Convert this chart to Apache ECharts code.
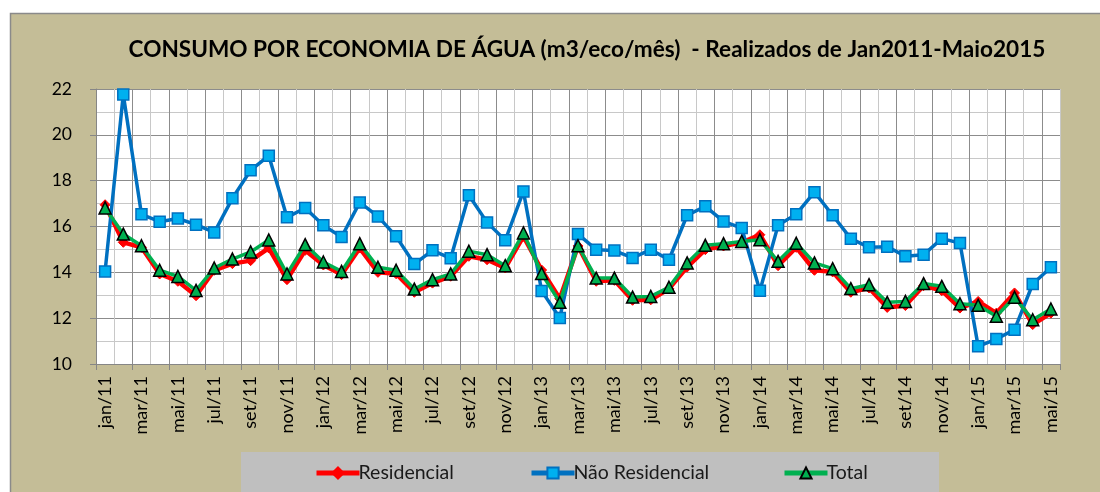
<!DOCTYPE html>
<html>
<head>
<meta charset="utf-8">
<script src="https://cdn.jsdelivr.net/npm/echarts@6/dist/echarts.min.js"></script>
<style>
html,body{margin:0;padding:0;background:#fff;}
#c{width:1100px;height:492px;}
</style>
</head>
<body>
<div id="c"></div>
<script>
const categories = ['jan/11','fev/11','mar/11','abr/11','mai/11','jun/11','jul/11','ago/11','set/11','out/11','nov/11','dez/11',
'jan/12','fev/12','mar/12','abr/12','mai/12','jun/12','jul/12','ago/12','set/12','out/12','nov/12','dez/12',
'jan/13','fev/13','mar/13','abr/13','mai/13','jun/13','jul/13','ago/13','set/13','out/13','nov/13','dez/13',
'jan/14','fev/14','mar/14','abr/14','mai/14','jun/14','jul/14','ago/14','set/14','out/14','nov/14','dez/14',
'jan/15','fev/15','mar/15','abr/15','mai/15'];

const residencial = [16.95,15.31,15.09,13.93,13.61,12.98,14.09,14.38,14.51,15.06,13.68,14.96,
14.32,13.90,15.06,14.00,13.94,13.13,13.53,13.83,14.70,14.55,14.19,15.57,
14.10,12.85,15.15,13.61,13.65,12.78,12.80,13.28,14.23,14.99,15.15,15.30,
15.64,14.29,15.09,14.09,14.02,13.13,13.32,12.47,12.55,13.42,13.20,12.44,
12.73,12.22,13.10,11.72,12.22];

const naoResidencial = [14.04,21.76,16.53,16.21,16.35,16.08,15.74,17.23,18.45,19.09,16.40,16.81,
16.05,15.54,17.05,16.44,15.57,14.36,14.96,14.61,17.36,16.18,15.40,17.53,
13.19,12.01,15.67,14.99,14.95,14.63,14.99,14.55,16.49,16.88,16.22,15.93,
13.20,16.05,16.54,17.50,16.49,15.47,15.09,15.12,14.70,14.77,15.47,15.28,
10.77,11.09,11.50,13.49,14.22];

const total = [16.81,15.67,15.16,14.09,13.82,13.21,14.19,14.58,14.89,15.41,13.93,15.21,
14.45,14.04,15.25,14.22,14.09,13.27,13.68,13.93,14.92,14.77,14.29,15.72,
13.95,12.69,15.16,13.75,13.75,12.92,12.95,13.35,14.41,15.18,15.25,15.35,
15.42,14.48,15.27,14.41,14.16,13.29,13.46,12.69,12.73,13.51,13.39,12.63,
12.56,12.08,12.91,11.93,12.40];

const seriesNames = ['Residencial','Não Residencial','Total'];
const yTicks = {min:10, max:22, interval:2};

const FONT = 'Lato, "Open Sans", sans-serif';
const chart = echarts.init(document.getElementById('c'), null, {renderer:'canvas'});

const legendCommon = {
  top: 458,
  itemWidth: 43,
  itemHeight: 14,
  lineStyle: {width: 5},
  textStyle: {fontFamily: FONT, fontSize: 19.5, color: '#1a1a1a', padding:[0,0,0,-6]},
};

chart.setOption({
  backgroundColor: '#ffffff',
  animation: false,
  graphic: [
    {type:'rect', z:-10, shape:{x:10.5, y:13.5, width:1100, height:490}, style:{fill:'#C4BD97', stroke:'#8a8a8a', lineWidth:1.5}},
    {type:'rect', z:-9, shape:{x:241, y:452, width:698, height:45}, style:{fill:'#BFBFBF'}}
  ],
  title: {
    text: 'CONSUMO POR ECONOMIA DE ÁGUA (m3/eco/mês)  - Realizados de Jan2011-Maio2015',
    left: 582, top: 33, textAlign: 'center',
    textStyle: {fontFamily: FONT, fontWeight: 'bold', fontSize: 22.6, color: '#000'}
  },
  legend: [
    Object.assign({left: 309, data: [seriesNames[0]]}, legendCommon),
    Object.assign({left: 524, data: [seriesNames[1]]}, legendCommon),
    Object.assign({left: 777, data: [seriesNames[2]]}, legendCommon)
  ],
  grid: {left: 96, right: 40, top: 89, bottom: 128, show: true, backgroundColor: '#ffffff', borderWidth: 0},
  xAxis: {
    type: 'category',
    data: categories,
    boundaryGap: true,
    axisLine: {show: true, lineStyle: {color: '#868686', width: 1}},
    axisTick: {show: true, interval: 1, length: 6, lineStyle: {color: '#868686'}},
    axisLabel: {interval: 1, rotate: 90, margin: 12, fontFamily: FONT, fontSize: 18, color: '#000'},
    splitLine: {show: true, interval: 0, lineStyle: {color: ['#8c8c8c', '#c8c8c8'], width: 1}}
  },
  yAxis: {
    type: 'value',
    min: yTicks.min, max: yTicks.max, interval: yTicks.interval,
    axisLine: {show: true, lineStyle: {color: '#868686'}},
    axisTick: {show: true, length: 6, lineStyle: {color: '#868686'}},
    axisLabel: {margin: 24, fontFamily: FONT, fontSize: 17.5, color: '#000'},
    splitLine: {show: true, lineStyle: {color: '#8c8c8c', width: 1}},
    minorTick: {show: false, splitNumber: 2},
    minorSplitLine: {show: true, lineStyle: {color: '#c8c8c8', width: 1}}
  },
  series: [
    {
      name: seriesNames[0], type: 'line', data: residencial,
      symbol: 'diamond', symbolSize: 10, showAllSymbol: true,
      lineStyle: {color: '#FF0000', width: 4.5},
      itemStyle: {color: '#FF0000', borderColor: '#FF0000', borderWidth: 1},
      z: 2
    },
    {
      name: seriesNames[1], type: 'line', data: naoResidencial,
      symbol: 'rect', symbolSize: 11, showAllSymbol: true,
      lineStyle: {color: '#0070C0', width: 3.5},
      itemStyle: {color: '#00B0F0', borderColor: '#0070C0', borderWidth: 1.5},
      z: 3
    },
    {
      name: seriesNames[2], type: 'line', data: total,
      symbol: 'triangle', symbolSize: 12, showAllSymbol: true,
      lineStyle: {color: '#00B050', width: 3.5},
      itemStyle: {color: '#00B050', borderColor: '#000000', borderWidth: 1.5},
      z: 4
    }
  ]
});
</script>
</body>
</html>
